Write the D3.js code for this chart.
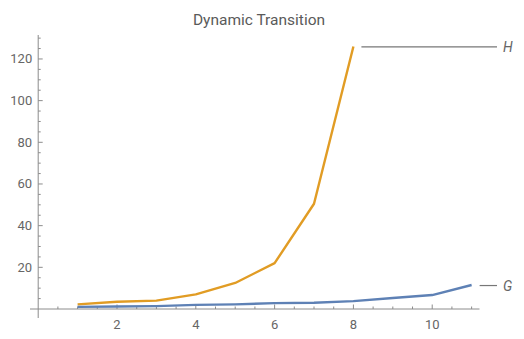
<!DOCTYPE html>
<html><head><meta charset="utf-8">
<script src="https://cdn.jsdelivr.net/npm/d3@7"></script>
<style>body{margin:0;background:#fff}svg{display:block}</style>
</head><body>
<svg id="c" width="524" height="339"></svg>
<script>
const title = "Dynamic Transition";
const xH = [1,2,3,4,5,6,7,8];
const valH = [2.2,3.5,4,7,12.5,22,50.5,126];
const xG = [1,2,3,4,5,6,7,8,9,10,11];
const valG = [1,1.2,1.4,2,2.2,2.8,3,3.8,5.3,6.7,11.5];
const xTicks = [2,4,6,8,10];
const yTicks = [20,40,60,80,100,120];
const seriesNames = ["H","G"];

const svg = d3.select("#c");
const x = d3.scaleLinear().domain([0, 11.2]).range([38.2, 479.5]);
const y = d3.scaleLinear().domain([0, 131.5]).range([309, 35]);
const axisCol = "#8c8c8c", textCol = "#666";

svg.append("text").attr("x", 259).attr("y", 25).attr("text-anchor","middle")
  .attr("font-family","Roboto, 'Liberation Sans', sans-serif").attr("font-size",15.5)
  .attr("fill","#5a5a5a").text(title);

// axes lines
svg.append("line").attr("x1",30).attr("x2",x(11.2)).attr("y1",y(0)).attr("y2",y(0)).attr("stroke",axisCol);
svg.append("line").attr("x1",x(0)).attr("x2",x(0)).attr("y1",y(131.5)).attr("y2",318).attr("stroke",axisCol);

// x ticks
const xMinor = d3.range(0.5, 11.2, 0.5).filter(v => v % 2 !== 0);
svg.selectAll(".xm").data(xMinor).join("line").attr("x1",d=>x(d)).attr("x2",d=>x(d))
  .attr("y1",y(0)).attr("y2",y(0)-2.5).attr("stroke",axisCol);
svg.selectAll(".xM").data(xTicks).join("line").attr("x1",d=>x(d)).attr("x2",d=>x(d))
  .attr("y1",y(0)).attr("y2",y(0)-4.5).attr("stroke",axisCol);
svg.selectAll(".xl").data(xTicks).join("text").attr("x",d=>x(d)).attr("y",329)
  .attr("text-anchor","middle").attr("font-family","Roboto, 'Liberation Sans', sans-serif")
  .attr("font-size",13).attr("fill",textCol).text(d=>d);

// y ticks
const yMinor = d3.range(5, 131, 5).filter(v => v % 20 !== 0);
svg.selectAll(".ym").data(yMinor).join("line").attr("x1",x(0)).attr("x2",x(0)+2.5)
  .attr("y1",d=>y(d)).attr("y2",d=>y(d)).attr("stroke",axisCol);
svg.selectAll(".yM").data(yTicks).join("line").attr("x1",x(0)).attr("x2",x(0)+4.5)
  .attr("y1",d=>y(d)).attr("y2",d=>y(d)).attr("stroke",axisCol);
svg.selectAll(".yl").data(yTicks).join("text").attr("x",x(0)-6).attr("y",d=>y(d)+4.5)
  .attr("text-anchor","end").attr("font-family","Roboto, 'Liberation Sans', sans-serif")
  .attr("font-size",13).attr("fill",textCol).text(d=>d);

const line = d3.line().x(d=>x(d[0])).y(d=>y(d[1]));
const series = [
  {name:seriesNames[0], xs:xH, vs:valH, color:"#e19c24"},
  {name:seriesNames[1], xs:xG, vs:valG, color:"#5e81b5"}
];
series.forEach(s => {
  svg.append("path").datum(s.xs.map((v,i)=>[v,s.vs[i]])).attr("d", line)
    .attr("fill","none").attr("stroke",s.color).attr("stroke-width",2.4)
    .attr("stroke-linejoin","round");
});

// labels
const labelX = 497;
series.forEach(s => {
  const lastX = s.xs[s.xs.length-1], lastV = s.vs[s.vs.length-1];
  const ly = y(lastV) + 0.5;
  svg.append("line").attr("x1", x(lastX)+8).attr("x2", labelX).attr("y1", ly).attr("y2", ly)
    .attr("stroke","#777").attr("stroke-width",1.2);
  svg.append("text").attr("x", labelX+6).attr("y", ly+5).attr("font-family","Roboto, 'Liberation Sans', sans-serif")
    .attr("font-size",14).attr("font-style","italic").attr("fill",textCol).text(s.name);
});
</script>
</body></html>
